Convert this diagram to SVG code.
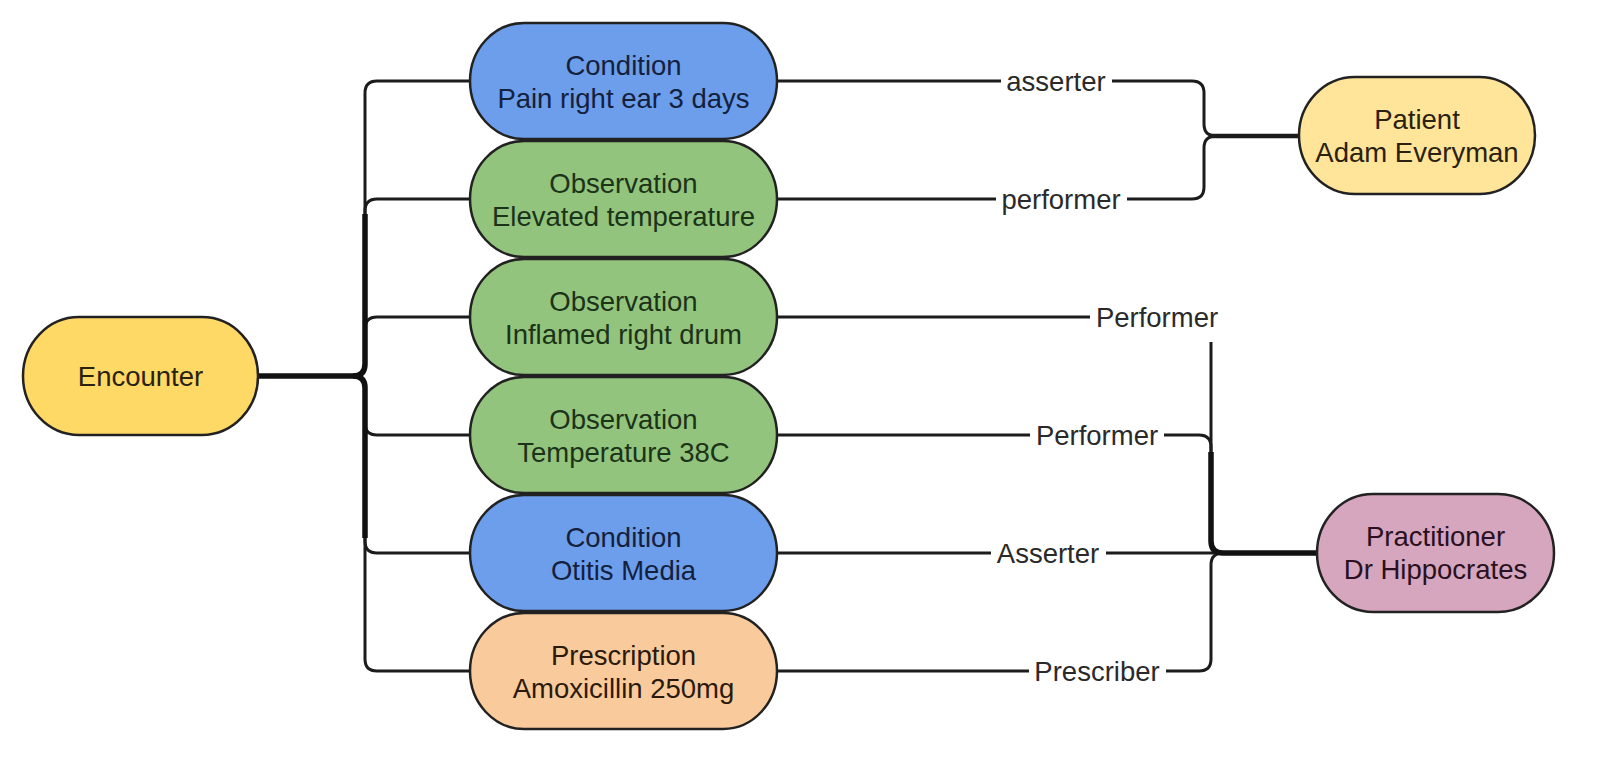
<svg xmlns="http://www.w3.org/2000/svg" width="1600" height="777" viewBox="0 0 1600 777">
<style>
  .node { stroke: #222222; stroke-width: 2.5; }
  .t { font-family: "Liberation Sans", Arial, sans-serif; font-size: 27.5px; text-anchor: middle; }
  .edge { fill: none; stroke: #1c1c1c; stroke-width: 3; stroke-linejoin: round; }
  .thick { fill: none; stroke: #111111; stroke-width: 5.5; stroke-linejoin: round; }
  .lblbg { fill: #ffffff; }
  .lbl { fill: #2a2a2a; }
  .blue { fill: #6d9eeb; }
  .green { fill: #93c47d; }
  .yellow { fill: #ffd966; }
  .lyellow { fill: #ffe599; }
  .orange { fill: #f9cb9c; }
  .pink { fill: #d5a6bd; }
  .tb { fill: #14213d; }
  .tg { fill: #1b3318; }
  .ty { fill: #2b2110; }
  .to { fill: #2b1a0c; }
  .tp { fill: #2a1020; }
</style>
<rect width="1600" height="777" fill="#ffffff"/>
<g id="connectors">
  <!-- Encounter to middle nodes -->
  <path class="edge" d="M258,376 H353 Q365,376 365,364 V93 Q365,81 377,81 H470"/>
  <path class="edge" d="M258,376 H353 Q365,376 365,364 V211 Q365,199 377,199 H470"/>
  <path class="edge" d="M258,376 H353 Q365,376 365,364 V329 Q365,317 377,317 H470"/>
  <path class="edge" d="M258,376 H353 Q365,376 365,388 V423 Q365,435 377,435 H470"/>
  <path class="edge" d="M258,376 H353 Q365,376 365,388 V541 Q365,553 377,553 H470"/>
  <path class="edge" d="M258,376 H353 Q365,376 365,388 V659 Q365,671 377,671 H470"/>
  <path class="thick" d="M258,376 H353 Q365,376 365,364 V214"/>
  <path class="thick" d="M353,376 Q365,376 365,388 V538"/>
  <!-- to Patient -->
  <path class="edge" d="M777,81 H1192 Q1204,81 1204,93 V124 Q1204,136 1216,136 H1299"/>
  <path class="edge" d="M777,199 H1192 Q1204,199 1204,187 V148 Q1204,136 1216,136 H1299"/>
  <path class="edge" style="stroke-width:4.5" d="M1210,136 H1299"/>
  <!-- to Practitioner -->
  <path class="edge" d="M777,317 H1199 Q1211,317 1211,329 V541 Q1211,553 1223,553 H1317"/>
  <path class="edge" d="M777,435 H1199 Q1211,435 1211,447 V541 Q1211,553 1223,553 H1317"/>
  <path class="edge" d="M777,553 H1317"/>
  <path class="edge" d="M777,671 H1199 Q1211,671 1211,659 V565 Q1211,553 1223,553 H1317"/>
  <path class="thick" d="M1211,452 V541 Q1211,553 1223,553 H1317"/>
  <!-- labels -->
  <g id="label-asserter">
    <rect class="lblbg" x="1001" y="64" width="111" height="38"/>
    <text class="t lbl" x="1056" y="91">asserter</text>
  </g>
  <g id="label-performer">
    <rect class="lblbg" x="996" y="182" width="131" height="38"/>
    <text class="t lbl" x="1061" y="209">performer</text>
  </g>
  <g id="label-performer-1">
    <rect class="lblbg" x="1090" y="298" width="135" height="44"/>
    <text class="t lbl" x="1157" y="327">Performer</text>
  </g>
  <g id="label-performer-2">
    <rect class="lblbg" x="1030" y="416" width="134" height="38"/>
    <text class="t lbl" x="1097" y="445">Performer</text>
  </g>
  <g id="label-asserter-2">
    <rect class="lblbg" x="991" y="534" width="115" height="38"/>
    <text class="t lbl" x="1048" y="563">Asserter</text>
  </g>
  <g id="label-prescriber">
    <rect class="lblbg" x="1029" y="652" width="137" height="38"/>
    <text class="t lbl" x="1097" y="681">Prescriber</text>
  </g>
</g>
<g id="encounter">
  <rect class="node yellow" x="23" y="317" width="235" height="118" rx="56" ry="59"/>
  <text class="t ty" x="140.5" y="386">Encounter</text>
</g>
<g id="condition-pain">
  <rect class="node blue" x="470" y="23" width="307" height="116" rx="54" ry="58"/>
  <text class="t tb" x="623.5" y="75">Condition</text>
  <text class="t tb" x="623.5" y="108">Pain right ear 3 days</text>
</g>
<g id="observation-elevated">
  <rect class="node green" x="470" y="141" width="307" height="116" rx="54" ry="58"/>
  <text class="t tg" x="623.5" y="193">Observation</text>
  <text class="t tg" x="623.5" y="226">Elevated temperature</text>
</g>
<g id="observation-inflamed">
  <rect class="node green" x="470" y="259" width="307" height="116" rx="54" ry="58"/>
  <text class="t tg" x="623.5" y="311">Observation</text>
  <text class="t tg" x="623.5" y="344">Inflamed right drum</text>
</g>
<g id="observation-temperature">
  <rect class="node green" x="470" y="377" width="307" height="116" rx="54" ry="58"/>
  <text class="t tg" x="623.5" y="429">Observation</text>
  <text class="t tg" x="623.5" y="462">Temperature 38C</text>
</g>
<g id="condition-otitis">
  <rect class="node blue" x="470" y="495" width="307" height="116" rx="54" ry="58"/>
  <text class="t tb" x="623.5" y="547">Condition</text>
  <text class="t tb" x="623.5" y="580">Otitis Media</text>
</g>
<g id="prescription">
  <rect class="node orange" x="470" y="613" width="307" height="116" rx="54" ry="58"/>
  <text class="t to" x="623.5" y="665">Prescription</text>
  <text class="t to" x="623.5" y="698">Amoxicillin 250mg</text>
</g>
<g id="patient">
  <rect class="node lyellow" x="1299" y="77" width="236" height="117" rx="56" ry="58.5"/>
  <text class="t ty" x="1417" y="129">Patient</text>
  <text class="t ty" x="1417" y="162">Adam Everyman</text>
</g>
<g id="practitioner">
  <rect class="node pink" x="1317" y="494" width="237" height="118" rx="56" ry="59"/>
  <text class="t tp" x="1435.5" y="546">Practitioner</text>
  <text class="t tp" x="1435.5" y="579">Dr Hippocrates</text>
</g>
</svg>
